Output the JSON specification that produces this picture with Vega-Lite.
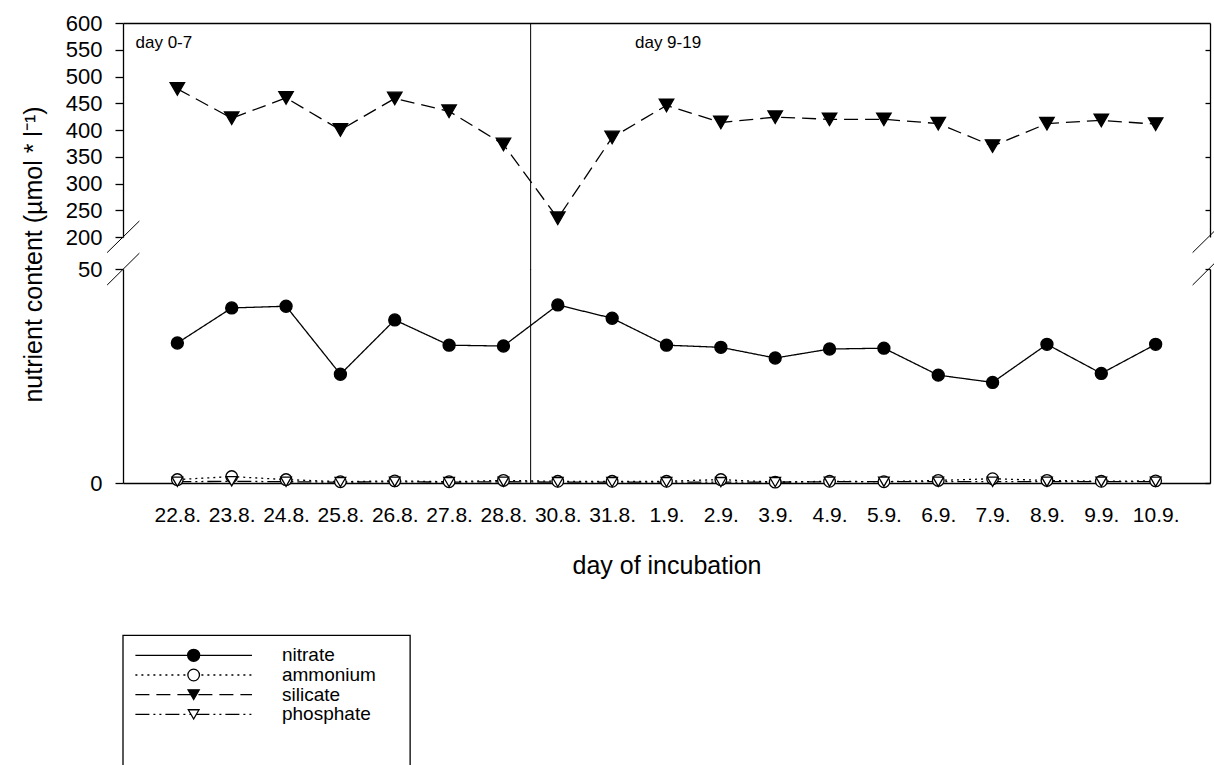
{
  "$schema": "https://vega.github.io/schema/vega-lite/v6.json",
  "padding": {"left": 20, "top": 12, "right": 0, "bottom": 0},
  "background": "white",
  "config": {
    "font": "Liberation Sans",
    "view": {"stroke": null},
    "axis": {"domainColor": "black", "tickColor": "black", "labelColor": "black", "titleColor": "black", "domainWidth": 1.3, "tickWidth": 1.3, "grid": false, "labelFont": "Liberation Sans", "titleFont": "Liberation Sans", "titleFontWeight": "normal"}
  },
  "datasets": {
    "nut": [
      {"idx":0,"date":"22.8.","nutrient":"nitrate","value":32.7},
      {"idx":1,"date":"23.8.","nutrient":"nitrate","value":40.9},
      {"idx":2,"date":"24.8.","nutrient":"nitrate","value":41.3},
      {"idx":3,"date":"25.8.","nutrient":"nitrate","value":25.4},
      {"idx":4,"date":"26.8.","nutrient":"nitrate","value":38.1},
      {"idx":5,"date":"27.8.","nutrient":"nitrate","value":32.2},
      {"idx":6,"date":"28.8.","nutrient":"nitrate","value":32.0},
      {"idx":7,"date":"30.8.","nutrient":"nitrate","value":41.6},
      {"idx":8,"date":"31.8.","nutrient":"nitrate","value":38.5},
      {"idx":9,"date":"1.9.","nutrient":"nitrate","value":32.2},
      {"idx":10,"date":"2.9.","nutrient":"nitrate","value":31.7},
      {"idx":11,"date":"3.9.","nutrient":"nitrate","value":29.2},
      {"idx":12,"date":"4.9.","nutrient":"nitrate","value":31.3},
      {"idx":13,"date":"5.9.","nutrient":"nitrate","value":31.5},
      {"idx":14,"date":"6.9.","nutrient":"nitrate","value":25.2},
      {"idx":15,"date":"7.9.","nutrient":"nitrate","value":23.5},
      {"idx":16,"date":"8.9.","nutrient":"nitrate","value":32.4},
      {"idx":17,"date":"9.9.","nutrient":"nitrate","value":25.6},
      {"idx":18,"date":"10.9.","nutrient":"nitrate","value":32.4},
      {"idx":0,"date":"22.8.","nutrient":"ammonium","value":0.8},
      {"idx":1,"date":"23.8.","nutrient":"ammonium","value":1.5},
      {"idx":2,"date":"24.8.","nutrient":"ammonium","value":0.8},
      {"idx":3,"date":"25.8.","nutrient":"ammonium","value":0.3},
      {"idx":4,"date":"26.8.","nutrient":"ammonium","value":0.5},
      {"idx":5,"date":"27.8.","nutrient":"ammonium","value":0.3},
      {"idx":6,"date":"28.8.","nutrient":"ammonium","value":0.6},
      {"idx":7,"date":"30.8.","nutrient":"ammonium","value":0.4},
      {"idx":8,"date":"31.8.","nutrient":"ammonium","value":0.4},
      {"idx":9,"date":"1.9.","nutrient":"ammonium","value":0.4},
      {"idx":10,"date":"2.9.","nutrient":"ammonium","value":0.8},
      {"idx":11,"date":"3.9.","nutrient":"ammonium","value":0.2},
      {"idx":12,"date":"4.9.","nutrient":"ammonium","value":0.4},
      {"idx":13,"date":"5.9.","nutrient":"ammonium","value":0.3},
      {"idx":14,"date":"6.9.","nutrient":"ammonium","value":0.6},
      {"idx":15,"date":"7.9.","nutrient":"ammonium","value":1.0},
      {"idx":16,"date":"8.9.","nutrient":"ammonium","value":0.6},
      {"idx":17,"date":"9.9.","nutrient":"ammonium","value":0.4},
      {"idx":18,"date":"10.9.","nutrient":"ammonium","value":0.5},
      {"idx":0,"date":"22.8.","nutrient":"silicate","value":477},
      {"idx":1,"date":"23.8.","nutrient":"silicate","value":422},
      {"idx":2,"date":"24.8.","nutrient":"silicate","value":460},
      {"idx":3,"date":"25.8.","nutrient":"silicate","value":400},
      {"idx":4,"date":"26.8.","nutrient":"silicate","value":459},
      {"idx":5,"date":"27.8.","nutrient":"silicate","value":435},
      {"idx":6,"date":"28.8.","nutrient":"silicate","value":373},
      {"idx":7,"date":"30.8.","nutrient":"silicate","value":235},
      {"idx":8,"date":"31.8.","nutrient":"silicate","value":386},
      {"idx":9,"date":"1.9.","nutrient":"silicate","value":446},
      {"idx":10,"date":"2.9.","nutrient":"silicate","value":414},
      {"idx":11,"date":"3.9.","nutrient":"silicate","value":424},
      {"idx":12,"date":"4.9.","nutrient":"silicate","value":420},
      {"idx":13,"date":"5.9.","nutrient":"silicate","value":420},
      {"idx":14,"date":"6.9.","nutrient":"silicate","value":412},
      {"idx":15,"date":"7.9.","nutrient":"silicate","value":370},
      {"idx":16,"date":"8.9.","nutrient":"silicate","value":412},
      {"idx":17,"date":"9.9.","nutrient":"silicate","value":418},
      {"idx":18,"date":"10.9.","nutrient":"silicate","value":411},
      {"idx":0,"date":"22.8.","nutrient":"phosphate","value":0.3},
      {"idx":1,"date":"23.8.","nutrient":"phosphate","value":0.4},
      {"idx":2,"date":"24.8.","nutrient":"phosphate","value":0.3},
      {"idx":3,"date":"25.8.","nutrient":"phosphate","value":0.2},
      {"idx":4,"date":"26.8.","nutrient":"phosphate","value":0.3},
      {"idx":5,"date":"27.8.","nutrient":"phosphate","value":0.2},
      {"idx":6,"date":"28.8.","nutrient":"phosphate","value":0.3},
      {"idx":7,"date":"30.8.","nutrient":"phosphate","value":0.2},
      {"idx":8,"date":"31.8.","nutrient":"phosphate","value":0.2},
      {"idx":9,"date":"1.9.","nutrient":"phosphate","value":0.2},
      {"idx":10,"date":"2.9.","nutrient":"phosphate","value":0.2},
      {"idx":11,"date":"3.9.","nutrient":"phosphate","value":0.2},
      {"idx":12,"date":"4.9.","nutrient":"phosphate","value":0.3},
      {"idx":13,"date":"5.9.","nutrient":"phosphate","value":0.3},
      {"idx":14,"date":"6.9.","nutrient":"phosphate","value":0.3},
      {"idx":15,"date":"7.9.","nutrient":"phosphate","value":0.3},
      {"idx":16,"date":"8.9.","nutrient":"phosphate","value":0.3},
      {"idx":17,"date":"9.9.","nutrient":"phosphate","value":0.3},
      {"idx":18,"date":"10.9.","nutrient":"phosphate","value":0.3}
    ],
    "leg": [
      {"nutrient":"nitrate"},
      {"nutrient":"ammonium"},
      {"nutrient":"silicate"},
      {"nutrient":"phosphate"}
    ],
    "one": [{}]
  },
  "bounds": "flush",
  "spacing": 32,
  "vconcat": [
    {
      "width": 1087,
      "height": 214,
      "resolve": {"axis": {"y": "independent"}},
      "layer": [
        {
          "data": {"name": "nut"},
          "transform": [{"filter": "datum.nutrient === 'silicate'"}],
          "mark": {"type": "line", "color": "black", "strokeWidth": 1.3},
          "encoding": {
            "x": {"field": "idx", "type": "quantitative", "scale": {"domain": [-1, 19], "nice": false, "zero": false},
                  "axis": {"orient": "top", "labels": false, "ticks": false, "title": null}},
            "y": {"field": "value", "type": "quantitative", "scale": {"domain": [200, 600], "nice": false, "zero": false},
                  "axis": {"orient": "left", "values": [200,250,300,350,400,450,500,550,600], "tickSize": 8, "labelPadding": 13, "labelFontSize": 22,
                           "title": "nutrient content (µmol * l⁻¹)", "titleFontSize": 25, "titleAngle": -90, "titleX": -90, "titleY": 231,
                           "titleAlign": "center", "titleBaseline": "middle"}},
            "strokeDash": {"field": "nutrient", "type": "nominal", "legend": null,
                           "scale": {"domain": ["nitrate","ammonium","silicate","phosphate"], "range": [[1,0],[2,4],[14,7],[14,4,2,4,2,4]]}}
          }
        },
        {
          "data": {"name": "nut"},
          "transform": [{"filter": "datum.nutrient === 'silicate'"}],
          "mark": {"type": "point", "filled": true, "stroke": "black", "strokeWidth": 1.3, "opacity": 1},
          "encoding": {
            "x": {"field": "idx", "type": "quantitative"},
            "y": {"field": "value", "type": "quantitative", "axis": null},
            "shape": {"field": "nutrient", "type": "nominal", "legend": null,
                      "scale": {"domain": ["nitrate","ammonium","silicate","phosphate"], "range": ["circle","circle","triangle-down","triangle-down"]}},
            "fill": {"field": "nutrient", "type": "nominal", "legend": null,
                     "scale": {"domain": ["nitrate","ammonium","silicate","phosphate"], "range": ["black","white","black","white"]}},
            "size": {"value": 210}
          }
        },
        {
          "data": {"name": "one"},
          "mark": {"type": "rule", "color": "black", "strokeWidth": 1, "clip": false},
          "encoding": {
            "x": {"datum": 6.5, "type": "quantitative"},
            "y": {"datum": 600, "type": "quantitative", "axis": null},
            "y2": {"datum": 139}
          }
        },
        {
          "data": {"name": "one"},
          "mark": {"type": "text", "align": "left", "baseline": "middle", "fontSize": 17, "color": "black"},
          "encoding": {
            "x": {"datum": -0.77, "type": "quantitative"},
            "y": {"datum": 562, "type": "quantitative", "axis": null},
            "text": {"value": "day 0-7"}
          }
        },
        {
          "data": {"name": "one"},
          "mark": {"type": "text", "align": "left", "baseline": "middle", "fontSize": 17, "color": "black"},
          "encoding": {
            "x": {"datum": 8.42, "type": "quantitative"},
            "y": {"datum": 562, "type": "quantitative", "axis": null},
            "text": {"value": "day 9-19"}
          }
        },
        {
          "data": {"name": "one"},
          "mark": {"type": "rule", "color": "black", "strokeWidth": 1, "clip": false},
          "encoding": {
            "x": {"datum": -1.292, "type": "quantitative"},
            "x2": {"datum": -0.699},
            "y": {"datum": 170.8, "type": "quantitative", "axis": null},
            "y2": {"datum": 229.9}
          }
        },
        {
          "data": {"name": "one"},
          "mark": {"type": "rule", "color": "black", "strokeWidth": 1, "clip": false},
          "encoding": {
            "x": {"datum": 18.68, "type": "quantitative"},
            "x2": {"datum": 19.27},
            "y": {"datum": 170.8, "type": "quantitative", "axis": null},
            "y2": {"datum": 229.9}
          }
        },
        {
          "data": {"name": "one"},
          "mark": {"type": "point", "opacity": 0},
          "encoding": {
            "y": {"datum": 400, "type": "quantitative",
                  "axis": {"orient": "right", "labels": false, "values": [250,350,450,550], "tickSize": -5, "title": null}}
          }
        }
      ]
    },
    {
      "width": 1087,
      "height": 214,
      "resolve": {"scale": {"y": "independent"}, "axis": {"y": "independent"}},
      "layer": [
        {
          "resolve": {"axis": {"y": "independent"}},
          "layer": [
            {
              "data": {"name": "nut"},
              "transform": [{"filter": "datum.nutrient !== 'silicate'"}],
              "mark": {"type": "line", "color": "black", "strokeWidth": 1.3},
              "encoding": {
                "x": {"field": "idx", "type": "quantitative", "scale": {"domain": [-1, 19], "nice": false, "zero": false},
                      "axis": {"orient": "bottom", "values": [0,1,2,3,4,5,6,7,8,9,10,11,12,13,14,15,16,17,18],
                               "labelExpr": "['22.8.','23.8.','24.8.','25.8.','26.8.','27.8.','28.8.','30.8.','31.8.','1.9.','2.9.','3.9.','4.9.','5.9.','6.9.','7.9.','8.9.','9.9.','10.9.'][datum.value]",
                               "ticks": false, "labelPadding": 21, "labelFontSize": 21, "labelFlush": false, "labelOverlap": false,
                               "title": "day of incubation", "titleFontSize": 25, "titlePadding": 28}},
                "y": {"field": "value", "type": "quantitative", "scale": {"domain": [0, 50], "nice": false, "zero": false},
                      "axis": {"orient": "left", "values": [0, 50], "tickSize": 8, "labelPadding": 13, "labelFontSize": 22, "title": null}},
                "strokeDash": {"field": "nutrient", "type": "nominal", "legend": null,
                               "scale": {"domain": ["nitrate","ammonium","silicate","phosphate"], "range": [[1,0],[2,4],[14,7],[14,4,2,4,2,4]]}},
                "order": {"field": "idx", "type": "quantitative"}
              }
            },
            {
              "data": {"name": "nut"},
              "transform": [{"filter": "datum.nutrient !== 'silicate'"}],
              "mark": {"type": "point", "filled": true, "stroke": "black", "strokeWidth": 1.3, "opacity": 1},
              "encoding": {
                "x": {"field": "idx", "type": "quantitative"},
                "y": {"field": "value", "type": "quantitative", "axis": null},
                "shape": {"field": "nutrient", "type": "nominal", "legend": null,
                          "scale": {"domain": ["nitrate","ammonium","silicate","phosphate"], "range": ["circle","circle","triangle-down","triangle-down"]}},
                "fill": {"field": "nutrient", "type": "nominal", "legend": null,
                         "scale": {"domain": ["nitrate","ammonium","silicate","phosphate"], "range": ["black","white","black","white"]}},
                "size": {"field": "nutrient", "type": "nominal", "legend": null,
                         "scale": {"domain": ["nitrate","ammonium","silicate","phosphate"], "range": [145, 115, 210, 170]}},
                "order": {"field": "nutrient", "sort": "ascending"}
              }
            },
            {
              "data": {"name": "one"},
              "mark": {"type": "rule", "color": "black", "strokeWidth": 1, "clip": false},
              "encoding": {
                "x": {"datum": 6.5, "type": "quantitative"},
                "y": {"datum": 0, "type": "quantitative", "axis": null},
                "y2": {"datum": 50}
              }
            },
            {
              "data": {"name": "one"},
              "mark": {"type": "rule", "color": "black", "strokeWidth": 1, "clip": false},
              "encoding": {
                "x": {"datum": -1.292, "type": "quantitative"},
                "x2": {"datum": -0.699},
                "y": {"datum": 46.25, "type": "quantitative", "axis": null},
                "y2": {"datum": 53.7}
              }
            },
            {
              "data": {"name": "one"},
              "mark": {"type": "rule", "color": "black", "strokeWidth": 1, "clip": false},
              "encoding": {
                "x": {"datum": 18.68, "type": "quantitative"},
                "x2": {"datum": 19.27},
                "y": {"datum": 46.25, "type": "quantitative", "axis": null},
                "y2": {"datum": 53.7}
              }
            },
            {
              "data": {"name": "one"},
              "mark": {"type": "rect", "fillOpacity": 0, "stroke": "black", "strokeWidth": 1.3, "clip": false},
              "encoding": {
                "x": {"datum": -1, "type": "quantitative"},
                "x2": {"datum": 4.283},
                "y": {"datum": -35.6, "type": "quantitative", "axis": null},
                "y2": {"datum": -66.6}
              }
            },
            {
              "data": {"name": "one"},
              "mark": {"type": "point", "opacity": 0},
              "encoding": {
                "y": {"datum": 25, "type": "quantitative",
                      "axis": {"orient": "right", "labels": false, "values": [0, 50], "tickSize": -5, "title": null}}
              }
            }
          ]
        },
        {
          "data": {"name": "leg"},
          "layer": [
            {
              "mark": {"type": "rule", "color": "black", "strokeWidth": 1.3, "clip": false},
              "encoding": {
                "x": {"datum": -0.772, "type": "quantitative"},
                "x2": {"datum": 1.373},
                "y": {"field": "nutrient", "type": "ordinal", "axis": null,
                      "scale": {"type": "point", "padding": 0, "domain": ["nitrate","ammonium","silicate","phosphate"], "range": [386.3, 445.4]}},
                "strokeDash": {"field": "nutrient", "type": "nominal", "legend": null,
                               "scale": {"domain": ["nitrate","ammonium","silicate","phosphate"], "range": [[1,0],[2,4],[14,7],[14,4,2,4,2,4]]}}
              }
            },
            {
              "mark": {"type": "point", "filled": true, "stroke": "black", "strokeWidth": 1.3, "opacity": 1, "clip": false},
              "encoding": {
                "x": {"datum": 0.3, "type": "quantitative"},
                "y": {"field": "nutrient", "type": "ordinal", "axis": null},
                "shape": {"field": "nutrient", "type": "nominal", "legend": null,
                          "scale": {"domain": ["nitrate","ammonium","silicate","phosphate"], "range": ["circle","circle","triangle-down","triangle-down"]}},
                "fill": {"field": "nutrient", "type": "nominal", "legend": null,
                         "scale": {"domain": ["nitrate","ammonium","silicate","phosphate"], "range": ["black","white","black","white"]}},
                "size": {"field": "nutrient", "type": "nominal", "legend": null,
                         "scale": {"domain": ["nitrate","ammonium","silicate","phosphate"], "range": [145, 115, 210, 170]}}
              }
            },
            {
              "mark": {"type": "text", "align": "left", "baseline": "middle", "fontSize": 19, "color": "black", "clip": false},
              "encoding": {
                "x": {"datum": 1.925, "type": "quantitative"},
                "y": {"field": "nutrient", "type": "ordinal", "axis": null},
                "text": {"field": "nutrient"}
              }
            }
          ]
        }
      ]
    }
  ]
}
